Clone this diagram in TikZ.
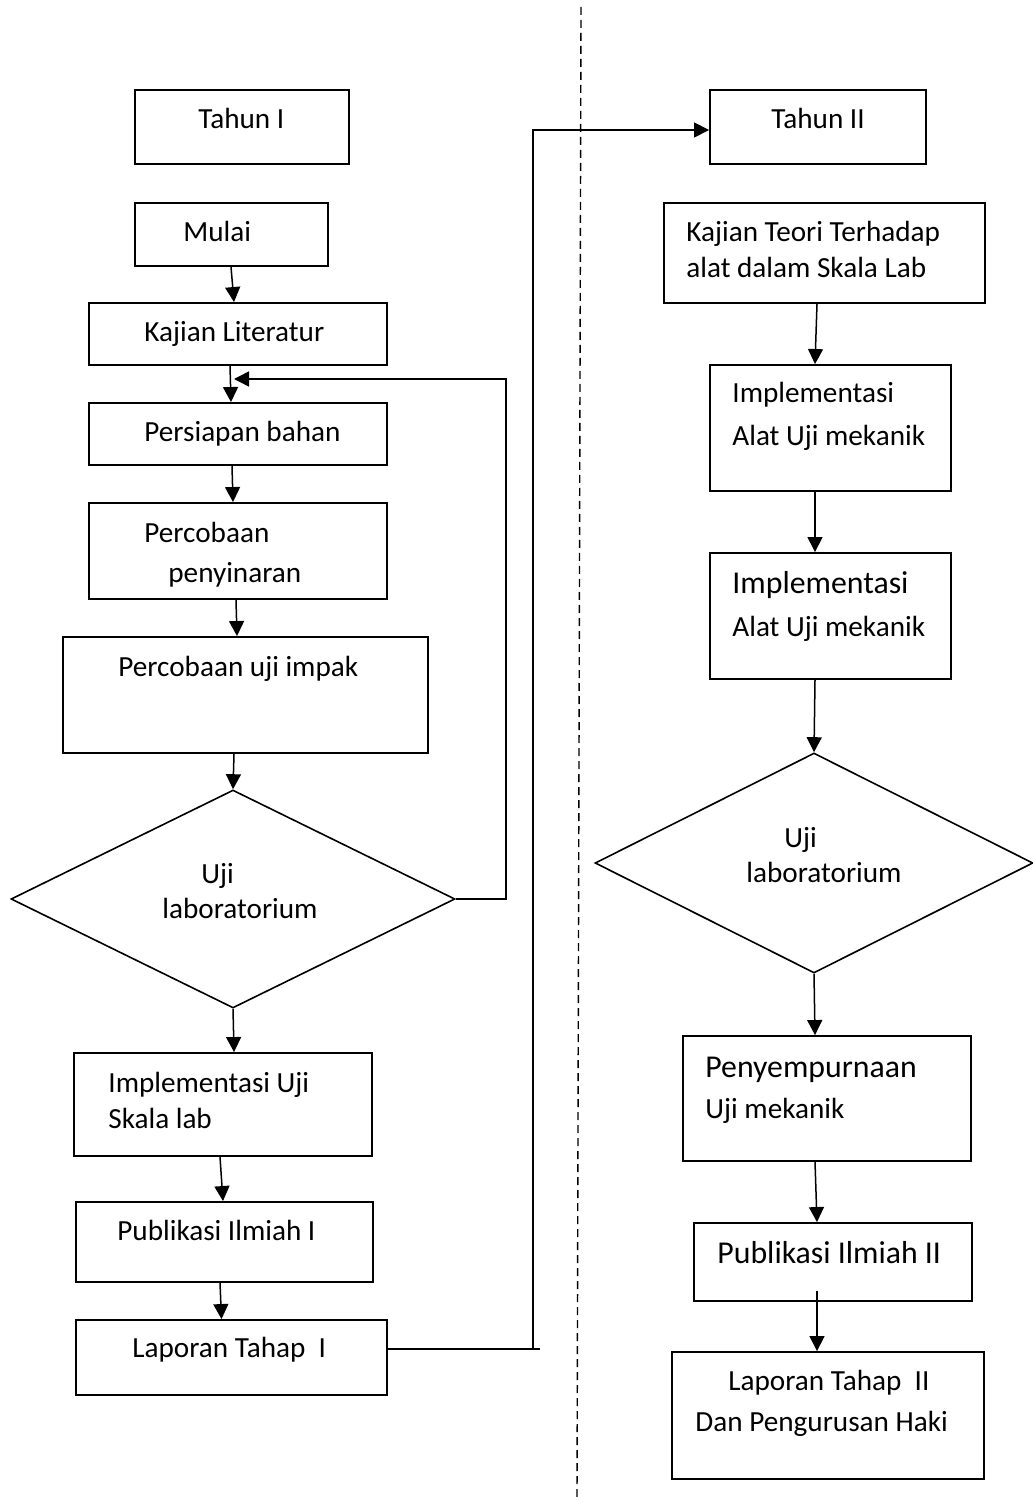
\documentclass[tikz,border=0pt]{standalone}
\usepackage{fontspec}
\setmainfont{Carlito}
\usetikzlibrary{arrows.meta,fit,shapes.geometric}
\begin{document}
\begin{tikzpicture}[x=0.5pt,y=-0.5pt,
  box/.style={draw,line width=0.95pt,inner sep=0pt,rectangle},
  dia/.style={draw,line width=0.8pt,diamond,inner sep=0pt},
  conn/.style={line width=0.75pt},
  arr/.style={conn,-{Triangle[length=7.5pt,width=7.5pt]}},
  divider/.style={line width=0.7pt,dash pattern=on 4pt off 2.5pt},
  txt/.style={anchor=base west,inner sep=0pt,font=\fontsize{14.6pt}{17pt}\selectfont},
  txtL/.style={anchor=base west,inner sep=0pt,font=\fontsize{15.9pt}{18pt}\selectfont}]
\useasboundingbox (0,0) rectangle (1032,1497);

% divider
\coordinate (dtop) at (581,7);
\coordinate (dbot) at (577,1497);
\draw[divider] (dtop) -- (dbot);

% left column boxes
\node[box,fit={(135,90)(349,164)}] (tahun1) {};
\node[box,fit={(135,203)(328,266)}] (mulai) {};
\node[box,fit={(89,303)(387,365)}] (kajian) {};
\node[box,fit={(89,403)(387,465)}] (persiapan) {};
\node[box,fit={(89,503)(387,599)}] (percob) {};
\node[box,fit={(63,637)(428,753)}] (impak) {};
\node[dia,minimum width=222pt,minimum height=109pt] (d1) at (233,899) {};
\node[box,fit={(74,1053)(372,1156)}] (impl) {};
\node[box,fit={(76,1202)(373,1282)}] (publ1) {};
\node[box,fit={(76,1320)(387,1395)}] (lap1) {};

% right column boxes
\node[box,fit={(710,90)(926,164)}] (tahun2) {};
\node[box,fit={(664,203)(985,303)}] (teori) {};
\node[box,fit={(710,365)(951,491)}] (implA) {};
\node[box,fit={(710,553)(951,679)}] (implB) {};
\node[dia,minimum width=219pt,minimum height=110pt] (d2) at (814,863) {};
\node[box,fit={(683,1036)(971,1161)}] (peny) {};
\node[box,fit={(694,1223)(972,1301)}] (publ2) {};
\node[box,fit={(672,1352)(984,1479)}] (lap2) {};

% left texts
\node[txt] (t1) at (198,129) {Tahun I};
\node[txt] (t2) at (183,242) {Mulai};
\node[txt] (t3) at (144,342) {Kajian Literatur};
\node[txt] (t4) at (144,442) {Persiapan bahan};
\node[txt] (t5a) at (144,542) {Percobaan};
\node[txt] (t5b) at (168,582) {penyinaran};
\node[txt] (t6) at (118,676) {Percobaan uji impak};
\node[txt] (t7a) at (201,883) {Uji};
\node[txt] (t7b) at (162,918) {laboratorium};
\node[txt] (t8a) at (108,1092) {Implementasi Uji};
\node[txt] (t8b) at (108,1128) {Skala lab};
\node[txt] (t9) at (117,1240) {Publikasi Ilmiah I};
\node[txt] (t10) at (132,1357) {Laporan Tahap~~I};

% right texts
\node[txt] (r1) at (771,129) {Tahun II};
\node[txt] (r2a) at (686,242) {Kajian Teori Terhadap};
\node[txt] (r2b) at (686,278) {alat dalam Skala Lab};
\node[txt] (r3a) at (732,403) {Implementasi};
\node[txt] (r3b) at (732,445) {Alat Uji mekanik};
\node[txtL] (r4a) at (732,593) {Implementasi};
\node[txt] (r4b) at (732,636) {Alat Uji mekanik};
\node[txt] (r5a) at (784,847) {Uji};
\node[txt] (r5b) at (746,882) {laboratorium};
\node[txtL] (r6a) at (705,1077) {Penyempurnaan};
\node[txt] (r6b) at (705,1118) {Uji mekanik};
\node[txtL] (r7) at (717,1263) {Publikasi Ilmiah II};
\node[txt] (r8a) at (728,1390) {Laporan Tahap~~II};
\node[txt] (r8b) at (695,1431) {Dan Pengurusan Haki};

% left connectors
\draw[arr] ([xshift=-0.25pt]mulai.south) -- ([xshift=-2pt]kajian.north);
\draw[arr] ([xshift=-4pt]kajian.south) -- ([xshift=-3.5pt]persiapan.north);
\draw[arr] ([xshift=-3pt]persiapan.south) -- ([xshift=-2.5pt]percob.north);
\draw[arr] ([xshift=-1pt]percob.south) -- ([xshift=-4.25pt]impak.north);
\draw[arr] ([xshift=-5.75pt]impak.south) -- (d1.north);
\draw[arr] (d1.south) -- ([xshift=5.5pt]impl.north);
\draw[arr] ([xshift=-1.5pt]impl.south) -- ([xshift=-0.75pt]publ1.north);
\draw[arr] ([xshift=-2.25pt]publ1.south) -- ([xshift=-5pt]lap1.north);

% feedback loop
\coordinate (fbc) at (506,379);
\coordinate (fbend) at (234,379);
\draw[arr] (d1.east) -| (fbc) -- (fbend);

% year 1 -> year 2
\coordinate (lapend) at (540,1349);
\coordinate (lapv) at (533,1349);
\draw[conn] ([yshift=4.25pt]lap1.east) -- (lapend);
\draw[arr] (lapv) |- ([yshift=-1.5pt]tahun2.west);

% right connectors
\draw[arr] ([xshift=-3.75pt]teori.south) -- ([xshift=-7.75pt]implA.north);
\draw[arr] ([xshift=-7.75pt]implA.south) -- ([xshift=-7.75pt]implB.north);
\draw[arr] ([xshift=-7.75pt]implB.south) -- (d2.north);
\draw[arr] (d2.south) -- ([xshift=-6pt]peny.north);
\draw[arr] ([xshift=-6pt]peny.south) -- ([xshift=-8pt]publ2.north);
\draw[arr] ([xshift=-8pt,yshift=5.5pt]publ2.south) -- ([xshift=-5.5pt]lap2.north);
\end{tikzpicture}
\end{document}
